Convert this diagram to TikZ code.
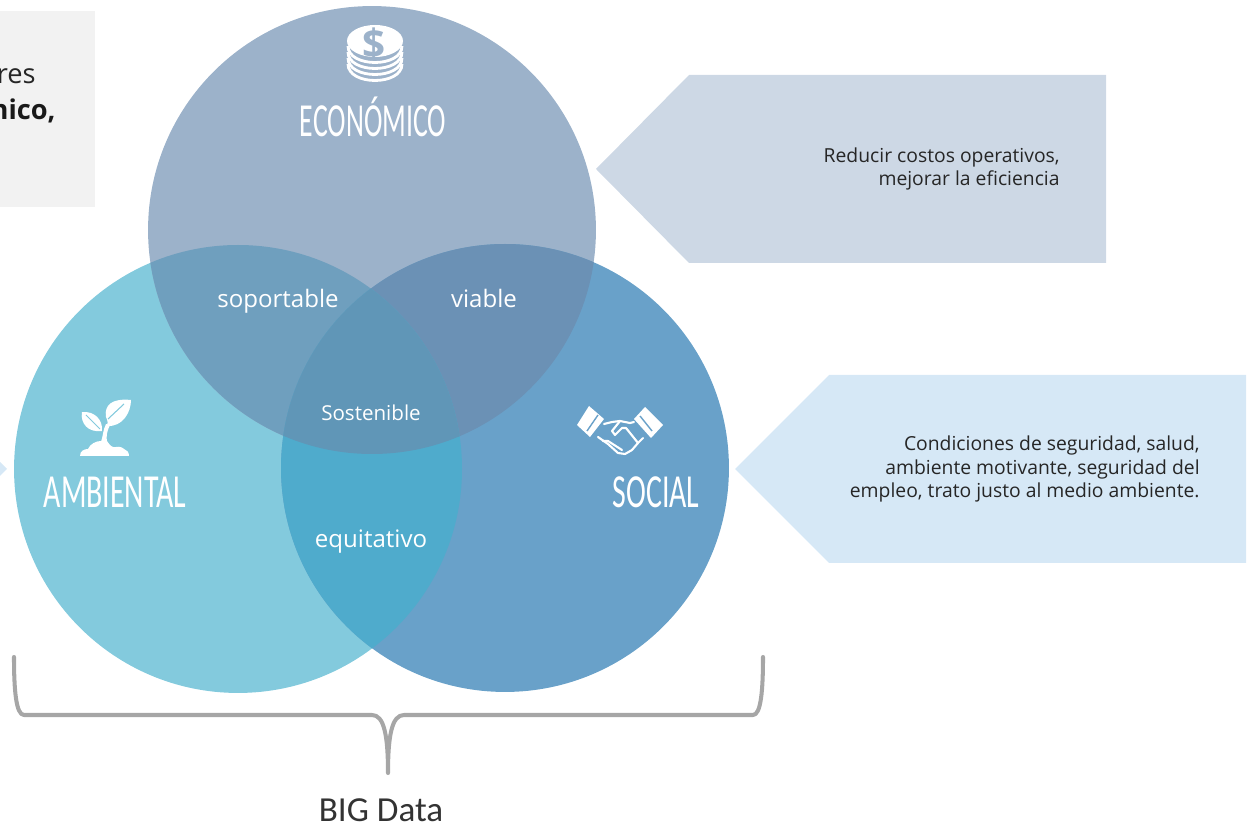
\documentclass[tikz,border=0pt]{standalone}
\usepackage{fontspec}
\setmainfont{Open Sans}
\newfontfamily\narrowfont[FakeStretch=0.63]{Carlito}
\newfontfamily\econfont[FakeStretch=0.585]{Carlito}
\newfontfamily\bracefont{Carlito}
\definecolor{ecoblue}{HTML}{9CB2CA}
\definecolor{ambblue}{HTML}{83CADD}
\definecolor{socblue}{HTML}{69A1C9}
\definecolor{soplap}{HTML}{6F9FBE}
\definecolor{vialap}{HTML}{6B91B5}
\definecolor{equlap}{HTML}{4FABCC}
\definecolor{soslap}{HTML}{6096B7}
\definecolor{ecotag}{HTML}{CDD8E5}
\definecolor{soctag}{HTML}{D6E8F6}
\definecolor{bracegray}{HTML}{A6A6A6}
\def\ecopath{(372,230) circle [radius=224]}
\def\ambpath{(238,469) circle [radius=224]}
\def\socpath{(505,468) circle [radius=224]}
\begin{document}
\begin{tikzpicture}[x=0.02cm, y=-0.02cm]
    \tikzset{
      disc/.style={circle, inner sep=0pt, minimum size=8.96cm},
      lap/.style={text=white, font=\fontsize{13.7}{15}\selectfont},
      title/.style={text=white, font=\narrowfont\fontsize{27}{30}\selectfont},
      note/.style={text=black!85, align=right, anchor=east, inner sep=0pt, font=\fontsize{11}{13.6}\selectfont},
      icon/.style={fill=white, draw=none},
      hand/.style={draw=white, line width=1.2pt, line join=round, line cap=round},
    };
    \useasboundingbox (0,0) rectangle (1252,827);

    % Left box
    \fill [black!5] (0,11) rectangle (95,207);
    \node [anchor=base east, inner sep=0pt, text=black!85, font=\fontsize{15.5}{17}\selectfont] (resto) at (36,84) {res};
    \node [anchor=base east, inner sep=0pt, text=black!90, font=\bfseries\fontsize{15.5}{17}\selectfont] (nico) at (56,120) {nico,};

    % Tags
    \fill [soctag] (0,462) -- (7,469) -- (0,476) -- cycle;
    \fill [ecotag] (596,169) -- (689,75) -- (1106,75) -- (1106,263) -- (689,263) -- cycle;
    \fill [soctag] (735,469) -- (829,375) -- (1246,375) -- (1246,563) -- (829,563) -- cycle;

    % Circles
    \node [disc, fill=ambblue] (amb) at (238,469) {};
    \node [disc, fill=ecoblue] (eco) at (372,230) {};
    \node [disc, fill=socblue] (soc) at (505,468) {};

    % Overlaps
    \begin{scope} \clip \ecopath; \fill [soplap] \ambpath; \end{scope}
    \begin{scope} \clip \ecopath; \fill [vialap] \socpath; \end{scope}
    \begin{scope} \clip \ambpath; \fill [equlap] \socpath; \end{scope}
    \begin{scope} \clip \ecopath; \clip \ambpath; \fill [soslap] \socpath; \end{scope}

    % Circle titles
    \node [title, font=\econfont\fontsize{27}{30}\selectfont] (econame) at (373,117) {ECONÓMICO};
    \node [title] (ambname) at (115,492) {AMBIENTAL};
    \node [title] (socname) at (656,492) {SOCIAL};

    % Overlap labels
    \node [lap] (sop) at (278,301) {soportable};
    \node [lap] (via) at (484,298) {viable};
    \node [lap] (equ) at (371,542) {equitativo};
    \node [lap, font=\fontsize{11.7}{13}\selectfont] (sos) at (371,413) {Sostenible};

    % Notes
    \node [note] (reduce) at (1060,169) {Reducir costos operativos,\\mejorar la eficiencia};
    \node [note] (cond) at (1200,469) {Condiciones de seguridad, salud,\\ambiente motivante, seguridad del\\empleo, trato justo al medio ambiente.};

    % Coins
    \fill [white] (375,41) circle [x radius=28, y radius=16];
    \foreach \y in {46, 52, 58, 64} {
      \draw [white, line width=1.6pt] (348,\y) .. controls (348,\y+22) and (402,\y+22) .. (402,\y);
    }
    \node [text=ecoblue, font=\bfseries\fontsize{23}{25}\selectfont] (dollar) at (374,44) {\$};

    % Plant
    \path [icon] (82,412) .. controls (80,423) and (88,433) .. (102,431) .. controls (103,420) and (95,411) .. (82,412) -- cycle;
    \path [icon] (131,400) .. controls (112,398) and (104,405) .. (106,417) .. controls (108,421) and (108,424) .. (107,426) .. controls (123,427) and (131,412) .. (131,400) -- cycle;
    \path [icon] (101,442) .. controls (103,436) and (103,430) .. (106,424) -- (110,425) .. controls (107,431) and (106,436) .. (107,442) -- cycle;
    \path [icon] (80,456) .. controls (80,451) and (84,449) .. (88,449) .. controls (90,444) and (96,441) .. (101,441) -- (107,441) .. controls (110,446) and (113,448) .. (116,447) .. controls (120,446) and (123,448) .. (124,449) .. controls (127,450) and (129,452) .. (129,456) -- cycle;
    \draw [ambblue, line width=0.6pt] (86,415) -- (100,429);
    \draw [ambblue, line width=0.6pt] (108,419) -- (124,404);

    % Handshake
    \path [icon] (589,406) -- (604,419) -- (590,437) -- (577,425) -- cycle;
    \path [icon] (645,407) -- (663,425) -- (651,438) -- (634,419) -- cycle;
    \draw [socblue, line width=0.8pt] (598,415) -- (587,431);
    \draw [socblue, line width=0.8pt] (640,416) -- (652,431);
    \draw [hand] (604,424) -- (612,422) -- (620,421) -- (630,423) -- (634,422);
    \draw [hand] (598,437) -- (608,444) -- (618,453) -- (625,454) -- (632,450) -- (638,443) -- (643,438);
    \draw [hand] (620,421) -- (612,431) -- (615,435) -- (622,428) -- (626,428) -- (638,443);
    \draw [hand] (603,441) -- (608,441) -- (622,450);

    % Brace
    \coordinate (bl) at (14,657);
    \coordinate (br) at (763,657);
    \coordinate (bt) at (388,773);
    \draw [bracegray, line width=2.3pt, line cap=round, line join=round]
      (bl) .. controls (14,690) and (16,715) .. (24,715) -- (372,715)
      .. controls (384,715) and (388,735) .. (bt)
      .. controls (388,735) and (392,715) .. (404,715) -- (753,715)
      .. controls (761,715) and (763,690) .. (br);
    \node [inner sep=0pt, font=\bracefont\fontsize{20}{22}\selectfont, text=black!80] (big) at (381,810) {BIG Data};
\end{tikzpicture}
\end{document}
